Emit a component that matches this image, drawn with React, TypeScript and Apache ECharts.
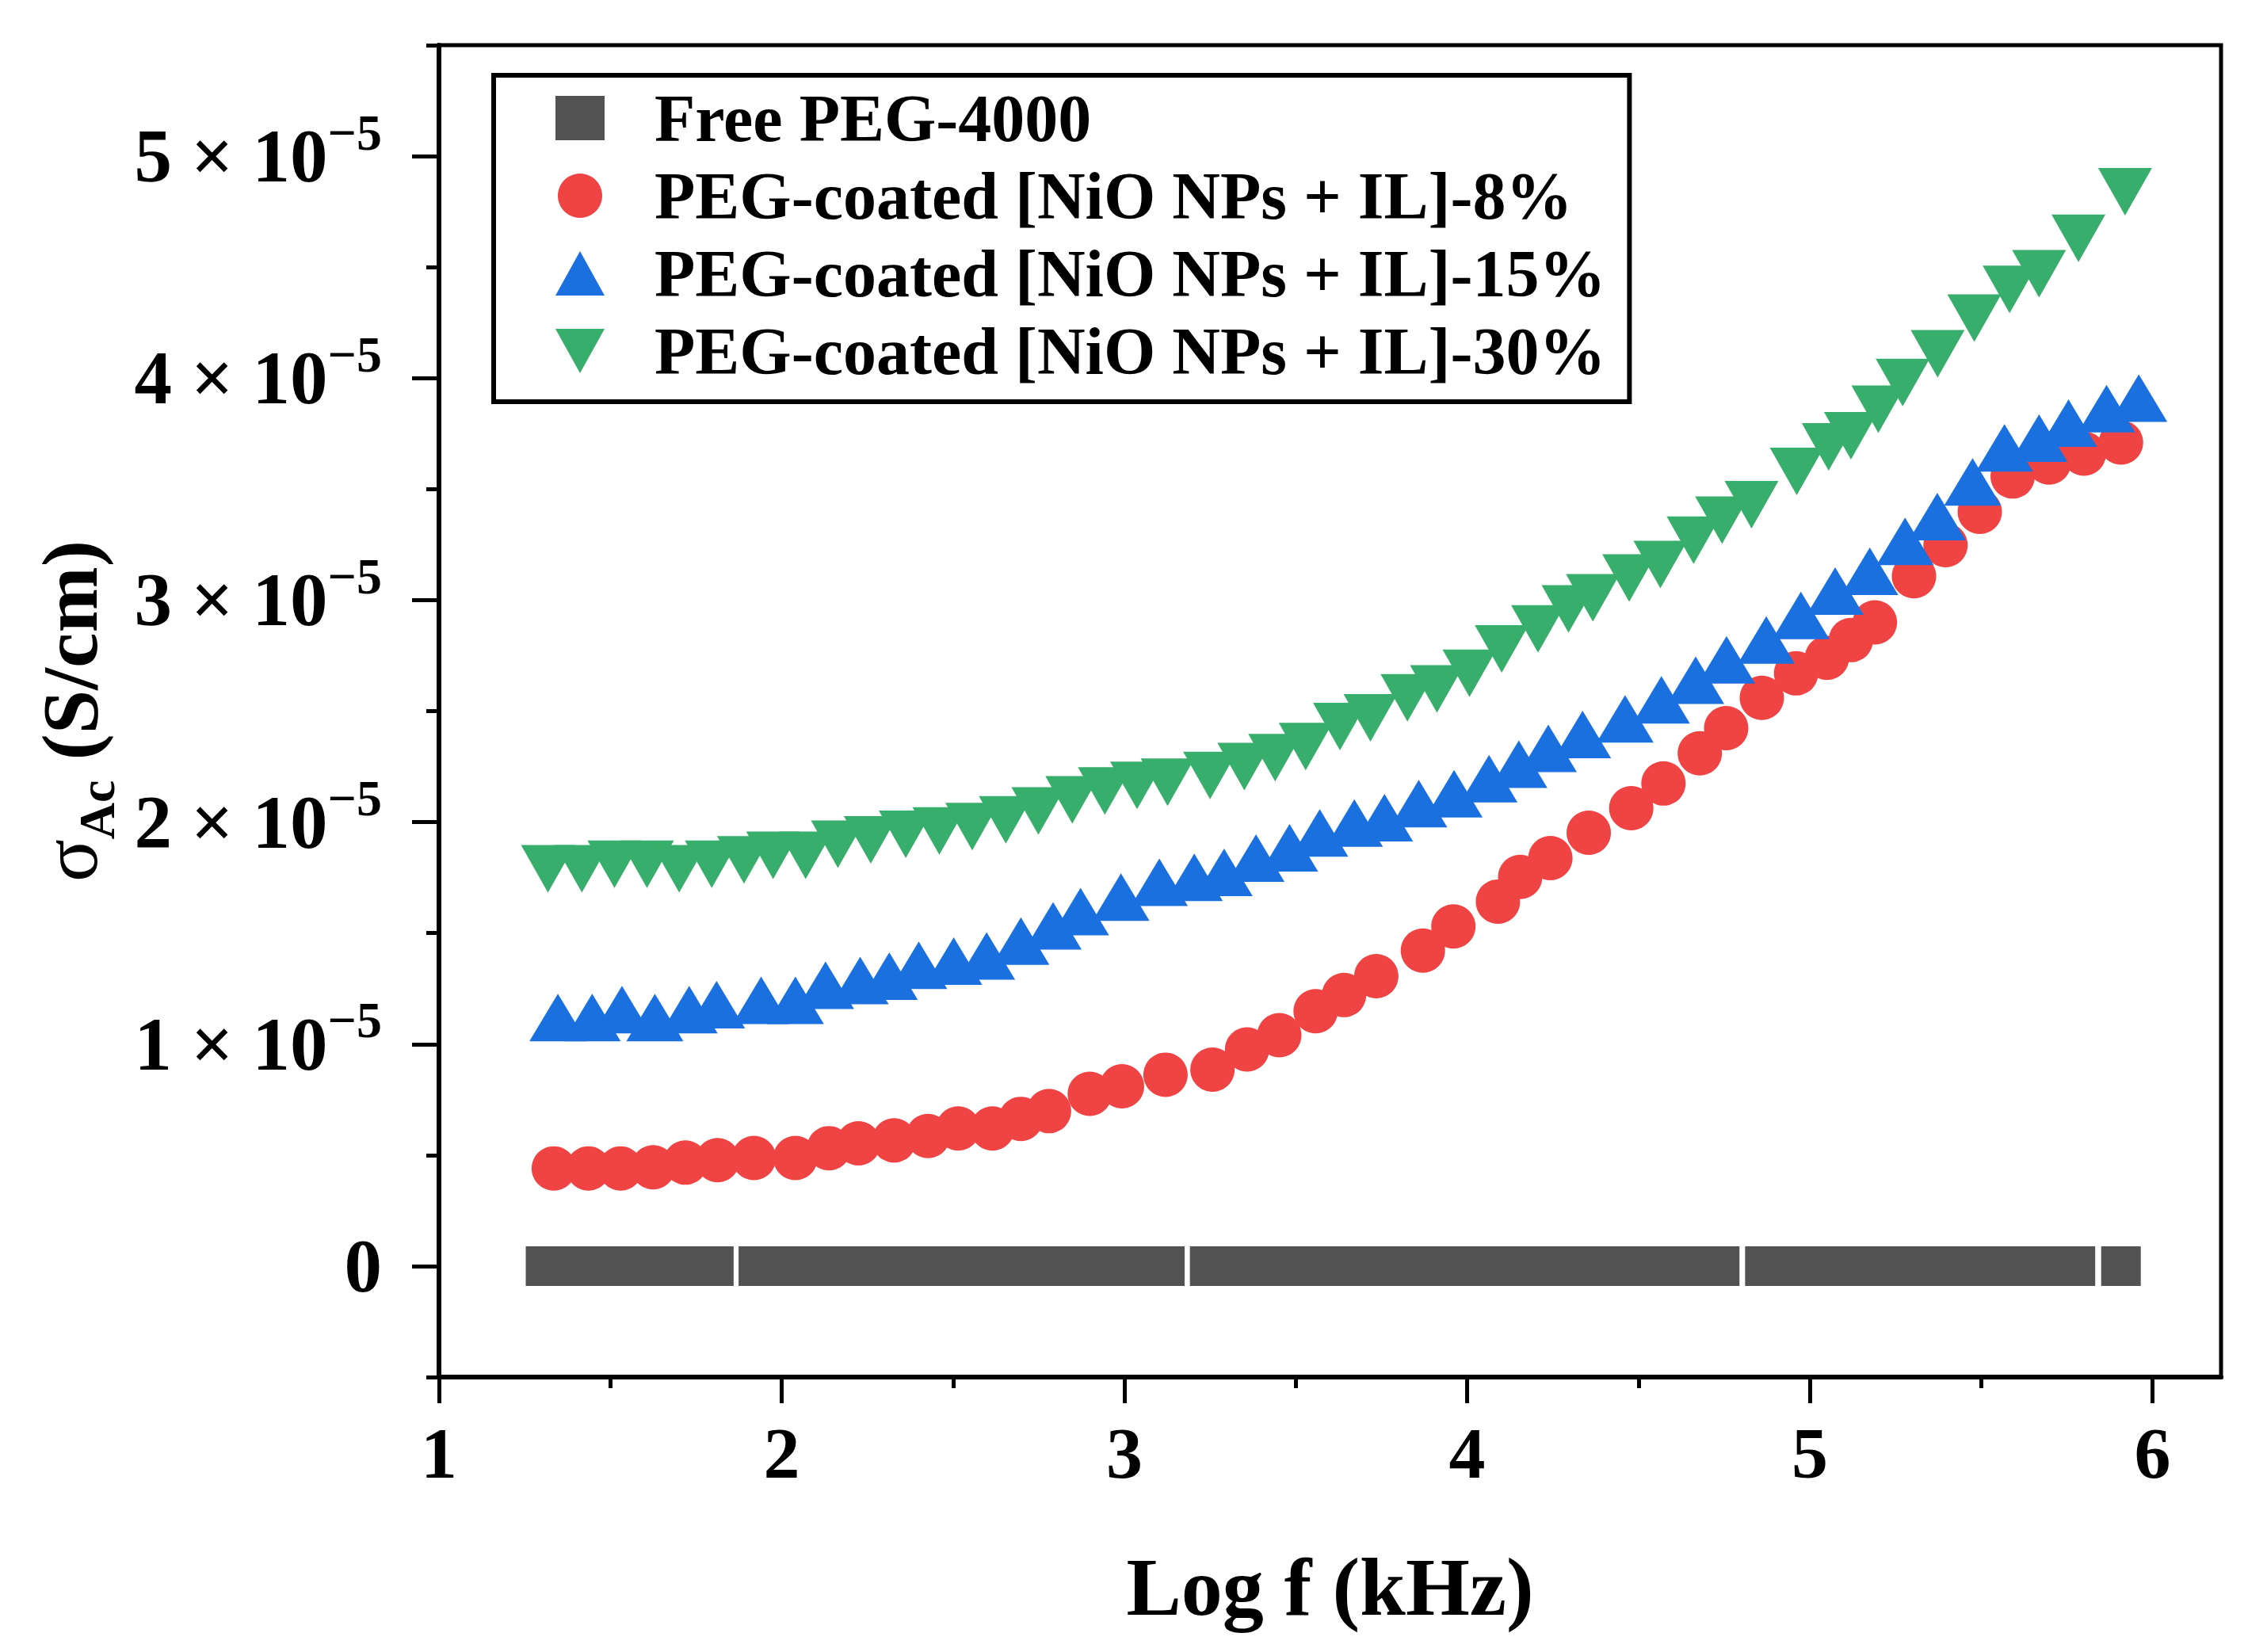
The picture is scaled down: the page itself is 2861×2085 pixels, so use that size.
import { useEffect, useRef } from "react";
import * as echarts from "echarts";

// σAc values are in units of 1e-5 S/cm, x is Log f (kHz)
const PEG_LOGF = [
  1.311, 1.409, 1.507, 1.605, 1.704, 1.802,
  1.932, 2.031, 2.13, 2.229, 2.327, 2.426, 2.525, 2.624, 2.723, 2.822, 2.92, 3.019, 3.118,
  3.249, 3.348, 3.447, 3.546, 3.646, 3.745, 3.844, 3.943, 4.042, 4.142, 4.241, 4.34, 4.439, 4.538, 4.638, 4.737,
  4.869, 4.97, 5.07, 5.171, 5.272, 5.372, 5.473, 5.574, 5.674, 5.775,
  5.908,
];
const PEG_SIGMA = [
  0, 0, 0, 0, 0, 0,
  0, 0, 0, 0, 0, 0, 0, 0, 0, 0, 0, 0, 0,
  0, 0, 0, 0, 0, 0, 0, 0, 0, 0, 0, 0, 0, 0, 0, 0,
  0, 0, 0, 0, 0, 0, 0, 0, 0, 0,
  0,
];

const NIO8_LOGF = [
  1.335, 1.436, 1.53, 1.625, 1.719, 1.813, 1.919, 2.04, 2.138, 2.224, 2.328, 2.427, 2.515, 2.615,
  2.698, 2.78, 2.899, 2.993, 3.12, 3.257, 3.358, 3.452, 3.558, 3.641, 3.735, 3.871, 3.96, 4.09,
  4.155, 4.243, 4.355, 4.479, 4.573, 4.679, 4.756, 4.86, 4.96, 5.05, 5.12, 5.19, 5.304, 5.396,
  5.496, 5.592, 5.698, 5.8, 5.908,
];
const NIO8_SIGMA = [
  0.44, 0.44, 0.44, 0.445, 0.466, 0.477, 0.487, 0.487, 0.531, 0.553, 0.566, 0.586, 0.62, 0.62,
  0.663, 0.698, 0.776, 0.81, 0.862, 0.885, 0.976, 1.04, 1.148, 1.221, 1.306, 1.421, 1.53, 1.642,
  1.753, 1.838, 1.952, 2.063, 2.174, 2.31, 2.423, 2.56, 2.67, 2.74, 2.82, 2.9, 3.108, 3.248,
  3.398, 3.557, 3.62, 3.66, 3.71,
];

const NIO15_LOGF = [
  1.347, 1.447, 1.534, 1.63, 1.73, 1.81, 1.94, 2.04, 2.128, 2.229, 2.314, 2.4, 2.502, 2.598,
  2.698, 2.792, 2.872, 2.99, 3.102, 3.204, 3.291, 3.384, 3.482, 3.57, 3.671, 3.759, 3.859, 3.962,
  4.064, 4.151, 4.237, 4.337, 4.461, 4.567, 4.667, 4.757, 4.873, 4.974, 5.074, 5.175, 5.278, 5.372,
  5.475, 5.568, 5.669, 5.755, 5.866, 5.96,
];
const NIO15_SIGMA = [
  1.12, 1.12, 1.155, 1.12, 1.155, 1.178, 1.197, 1.197, 1.265, 1.286, 1.306, 1.355, 1.374, 1.397,
  1.464, 1.533, 1.597, 1.662, 1.729, 1.751, 1.774, 1.838, 1.884, 1.951, 1.996, 2.02, 2.083, 2.128,
  2.196, 2.261, 2.332, 2.395, 2.465, 2.551, 2.639, 2.731, 2.82, 2.931, 3.041, 3.13, 3.265, 3.376,
  3.532, 3.686, 3.73, 3.797, 3.863, 3.91,
];

const NIO30_LOGF = [
  1.318, 1.417, 1.512, 1.607, 1.701, 1.796, 1.89, 1.975, 2.07, 2.164, 2.26, 2.362, 2.46, 2.556,
  2.654, 2.749, 2.848, 2.943, 3.037, 3.126, 3.25, 3.35, 3.44, 3.529, 3.629, 3.718, 3.826, 3.912,
  4.007, 4.101, 4.207, 4.296, 4.367, 4.473, 4.564, 4.661, 4.744, 4.83, 4.962, 5.055, 5.12, 5.2,
  5.271, 5.373, 5.48, 5.583, 5.669, 5.784, 5.92,
];
const NIO30_SIGMA = [
  1.79, 1.79, 1.81, 1.81, 1.79, 1.81, 1.83, 1.85, 1.85, 1.9, 1.92, 1.945, 1.96, 1.98,
  2.01, 2.05, 2.1, 2.14, 2.165, 2.18, 2.21, 2.25, 2.29, 2.34, 2.43, 2.47, 2.56, 2.6,
  2.67, 2.78, 2.87, 2.96, 3.01, 3.1, 3.16, 3.27, 3.36, 3.43, 3.58, 3.69, 3.74, 3.86,
  3.98, 4.11, 4.27, 4.4, 4.47, 4.63, 4.84,
];

const SERIES_NAMES = [
  "Free PEG-4000",
  "PEG-coated [NiO NPs + IL]-8%",
  "PEG-coated [NiO NPs + IL]-15%",
  "PEG-coated [NiO NPs + IL]-30%",
];

const X_MAJOR = [1, 2, 3, 4, 5, 6];
const X_MINOR = [1.5, 2.5, 3.5, 4.5, 5.5];
const Y_MAJOR = [0, 1, 2, 3, 4, 5];
const Y_MINOR = [-0.5, 0.5, 1.5, 2.5, 3.5, 4.5, 5.5];

const SERIF = "'Liberation Serif', 'Times New Roman', serif";
const DOWN_TRIANGLE = "path://M0,0L10,0L5,9Z";

const zip = (xs: number[], ys: number[]) => xs.map((x, i) => [x, ys[i]]);

export default function App() {
  const chartRef = useRef<HTMLDivElement>(null);

  useEffect(() => {
    if (!chartRef.current) return;
    const chart = echarts.init(chartRef.current, null, { renderer: "svg" });

    const tickStyle = { color: "#000", width: 5 };

    chart.setOption({
      animation: false,
      backgroundColor: "#fff",
      grid: {
        left: 554,
        right: 58,
        top: 57,
        bottom: 347,
        show: true,
        borderColor: "#000",
        borderWidth: 5,
      },
      legend: {
        orient: "vertical",
        left: 623,
        top: 95,
        padding: [12, 30, 22, 78],
        borderColor: "#000",
        borderWidth: 6,
        itemWidth: 62,
        itemHeight: 56,
        itemGap: 14,
        selectedMode: false,
        data: [
          { name: SERIES_NAMES[0] },
          { name: SERIES_NAMES[1] },
          { name: SERIES_NAMES[2] },
          { name: SERIES_NAMES[3], icon: DOWN_TRIANGLE },
        ],
        formatter: (name: string) => `{t|${name}}`,
        textStyle: {
          rich: {
            t: {
              fontSize: 84,
              fontWeight: "bold",
              fontFamily: SERIF,
              color: "#000",
              padding: [0, 0, 0, 58],
            },
          },
        },
      },
      xAxis: [
        {
          type: "value",
          position: "bottom",
          min: 1,
          max: 6.2,
          axisLine: { show: true, onZero: false, lineStyle: { color: "#000", width: 6 } },
          axisTick: { show: true, customValues: X_MINOR, length: 14, lineStyle: tickStyle },
          axisLabel: { show: false },
          splitLine: { show: false },
        },
        {
          type: "value",
          position: "bottom",
          min: 1,
          max: 6.2,
          axisLine: { show: false, onZero: false },
          axisTick: { show: true, customValues: X_MAJOR, length: 33, lineStyle: tickStyle },
          axisLabel: {
            customValues: X_MAJOR,
            margin: 50,
            fontSize: 92,
            fontWeight: "bold",
            fontFamily: SERIF,
            color: "#000",
          },
          splitLine: { show: false },
          name: "Log f (kHz)",
          nameLocation: "middle",
          nameGap: 212,
          nameTextStyle: {
            fontSize: 104,
            fontWeight: "bold",
            fontFamily: SERIF,
            color: "#000",
          },
        },
      ],
      yAxis: [
        {
          type: "value",
          position: "left",
          min: -0.5,
          max: 5.5,
          axisLine: { show: true, onZero: false, lineStyle: { color: "#000", width: 6 } },
          axisTick: { show: true, customValues: Y_MINOR, length: 16, lineStyle: tickStyle },
          axisLabel: { show: false },
          splitLine: { show: false },
        },
        {
          type: "value",
          position: "left",
          min: -0.5,
          max: 5.5,
          axisLine: { show: false, onZero: false },
          axisTick: { show: true, customValues: Y_MAJOR, length: 34, lineStyle: tickStyle },
          axisLabel: {
            customValues: Y_MAJOR,
            margin: 72,
            formatter: (v: number) => (v === 0 ? "{b|0}" : `{b|${v} × 10}{s|−5}`),
            rich: {
              b: {
                fontSize: 95,
                fontWeight: "bold",
                fontFamily: SERIF,
                color: "#000",
                verticalAlign: "middle",
              },
              s: {
                fontSize: 64,
                fontWeight: "bold",
                fontFamily: SERIF,
                color: "#000",
                verticalAlign: "middle",
                padding: [0, 0, 60, 0],
              },
            },
          },
          splitLine: { show: false },
          name: "{sig|σ}{sub|Ac}{b| (S/cm)}",
          nameLocation: "middle",
          nameGap: 400,
          nameTextStyle: {
            rich: {
              sig: {
                fontSize: 100,
                fontFamily: SERIF,
                color: "#000",
                verticalAlign: "middle",
              },
              sub: {
                fontSize: 64,
                fontWeight: "bold",
                fontFamily: SERIF,
                color: "#000",
                verticalAlign: "middle",
                padding: [68, 0, 0, 0],
              },
              b: {
                fontSize: 100,
                fontWeight: "bold",
                fontFamily: SERIF,
                color: "#000",
                verticalAlign: "middle",
              },
            },
          },
        },
      ],
      series: [
        {
          name: SERIES_NAMES[0],
          type: "scatter",
          symbol: "rect",
          symbolSize: 50,
          itemStyle: { color: "#525252", opacity: 1 },
          emphasis: { disabled: true },
          data: zip(PEG_LOGF, PEG_SIGMA),
        },
        {
          name: SERIES_NAMES[1],
          type: "scatter",
          symbol: "circle",
          symbolSize: 56,
          itemStyle: { color: "#F04343", opacity: 1 },
          emphasis: { disabled: true },
          data: zip(NIO8_LOGF, NIO8_SIGMA),
        },
        {
          name: SERIES_NAMES[2],
          type: "scatter",
          symbol: "triangle",
          symbolSize: [72, 60],
          itemStyle: { color: "#1B70DF", opacity: 1 },
          emphasis: { disabled: true },
          data: zip(NIO15_LOGF, NIO15_SIGMA),
        },
        {
          name: SERIES_NAMES[3],
          type: "scatter",
          symbol: DOWN_TRIANGLE,
          symbolSize: [68, 60],
          itemStyle: { color: "#37AE6B", opacity: 1 },
          emphasis: { disabled: true },
          data: zip(NIO30_LOGF, NIO30_SIGMA),
        },
      ],
    });

    return () => {
      chart.dispose();
    };
  }, []);

  return (
    <div
      ref={chartRef}
      style={{ position: "absolute", left: 0, top: 0, width: 2861, height: 2085, background: "#fff" }}
    />
  );
}
